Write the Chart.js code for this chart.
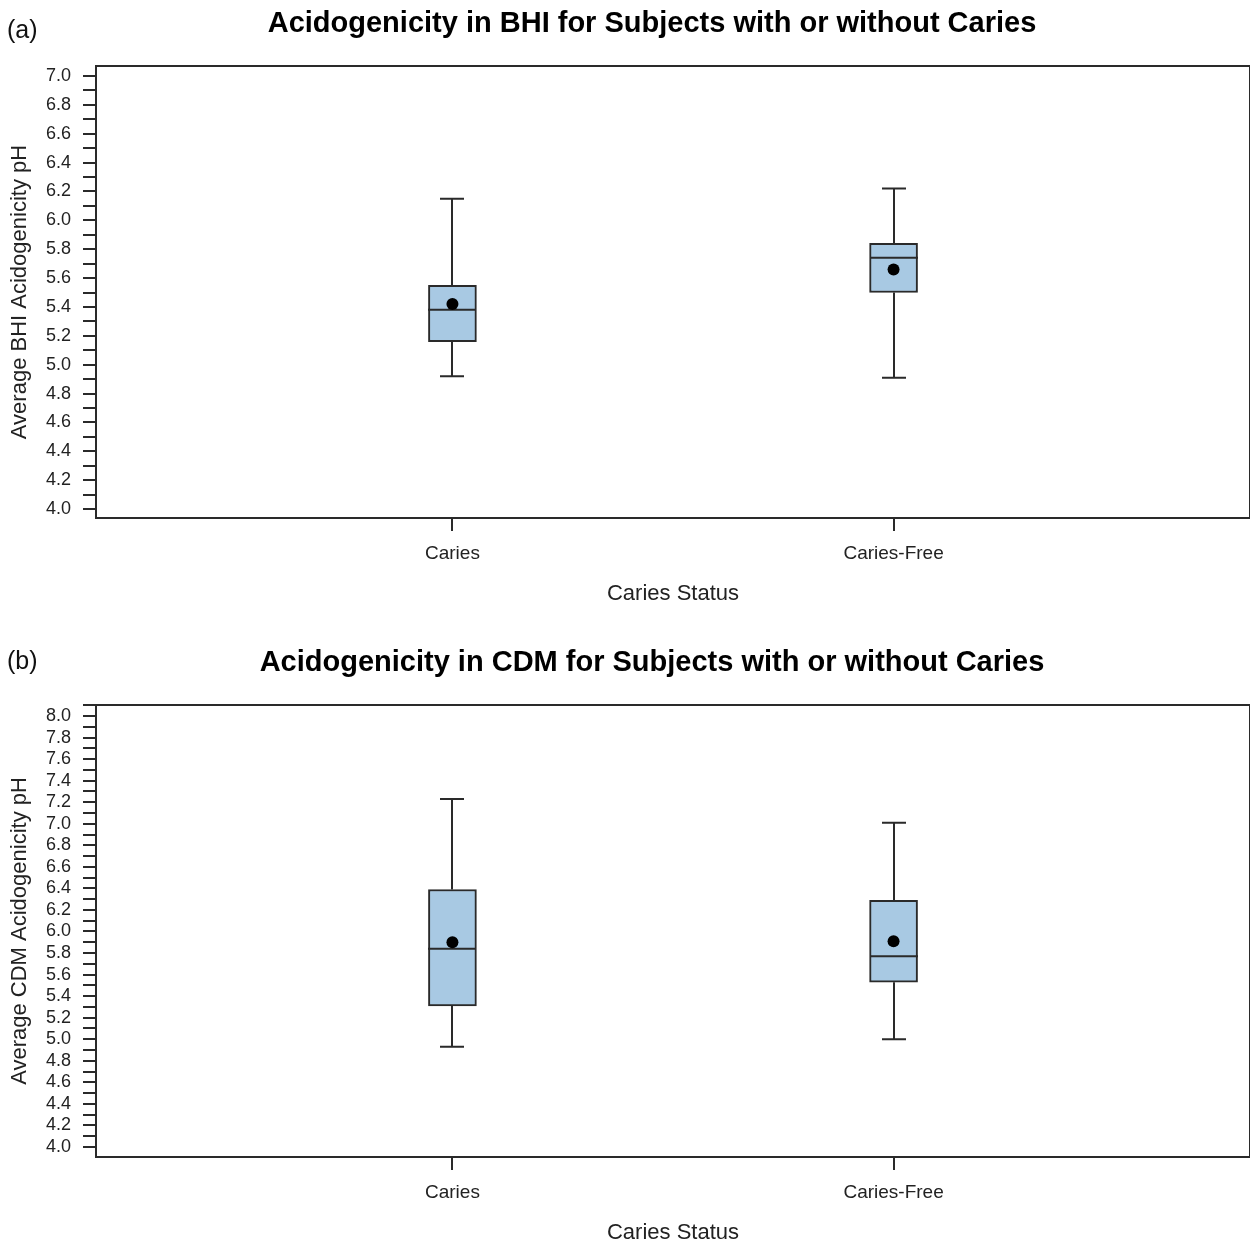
<!DOCTYPE html>
<html>
<head>
<meta charset="utf-8">
<script src="https://cdn.jsdelivr.net/npm/chart.js@4.4.1/dist/chart.umd.min.js"></script>
<style>
  html, body { margin: 0; padding: 0; background: #fff; overflow: hidden; width: 1250px; height: 1243px; }
  .panel { width: 1256px; height: 639px; position: relative; }
  canvas { display: block; }
</style>
</head>
<body>
<div class="panel"><canvas id="bhi" width="1256" height="639"></canvas></div>
<div class="panel"><canvas id="cdm" width="1256" height="639"></canvas></div>
<script>
// ---------- data ----------
const categories = ['Caries', 'Caries-Free'];

// (a) BHI
const bhiWhiskerLow  = [4.92, 4.91];
const bhiQ1          = [5.16, 5.50];
const bhiMedian      = [5.38, 5.74];
const bhiQ3          = [5.55, 5.84];
const bhiWhiskerHigh = [6.15, 6.22];
const bhiMean        = [5.42, 5.66];

// (b) CDM
const cdmWhiskerLow  = [4.93, 5.00];
const cdmQ1          = [5.31, 5.53];
const cdmMedian      = [5.84, 5.77];
const cdmQ3          = [6.39, 6.29];
const cdmWhiskerHigh = [7.23, 7.01];
const cdmMean        = [5.90, 5.91];

// ---------- styles ----------
const FONT = "'Liberation Sans', Arial, Helvetica, sans-serif";
const LINE = '#2a2a2a';
const BOX_FILL = '#a8c9e3';
const BOX_W = 48;
const CAP_W = 24;

function makePanel(canvasId, opts) {
  const { panelLabel, title, yTitle, yMin, yMax, labelY,
          lo, q1, med, q3, hi, mean } = opts;

  const boxData = categories.map((c, i) => ({ x: i + 1, y: [q1[i], q3[i]] }));
  const meanData = categories.map((c, i) => ({ x: i + 1, y: mean[i] }));

  const parts = {
    id: 'boxParts',
    beforeDatasetsDraw(chart) {
      const { ctx, scales: { x, y } } = chart;
      ctx.save();
      ctx.strokeStyle = LINE;
      ctx.lineWidth = 2;
      ctx.lineCap = 'butt';
      categories.forEach((c, i) => {
        const px = Math.round(x.getPixelForValue(i + 1));
        const yHi = y.getPixelForValue(hi[i]);
        const yLo = y.getPixelForValue(lo[i]);
        const yQ1 = y.getPixelForValue(q1[i]);
        const yQ3 = y.getPixelForValue(q3[i]);
        ctx.beginPath();
        ctx.moveTo(px, yHi); ctx.lineTo(px, yQ3);
        ctx.moveTo(px, yQ1); ctx.lineTo(px, yLo);
        ctx.moveTo(px - CAP_W / 2, yHi); ctx.lineTo(px + CAP_W / 2, yHi);
        ctx.moveTo(px - CAP_W / 2, yLo); ctx.lineTo(px + CAP_W / 2, yLo);
        ctx.stroke();
      });
      ctx.restore();
    },
    afterDatasetDraw(chart, args) {
      if (args.meta.type !== 'bar') return;
      const { ctx, scales: { x, y } } = chart;
      ctx.save();
      ctx.strokeStyle = LINE;
      ctx.lineWidth = 2;
      categories.forEach((c, i) => {
        const px = Math.round(x.getPixelForValue(i + 1));
        const ym = y.getPixelForValue(med[i]);
        ctx.beginPath();
        ctx.moveTo(px - BOX_W / 2, ym); ctx.lineTo(px + BOX_W / 2, ym);
        ctx.stroke();
      });
      ctx.restore();
    },
    afterDraw(chart) {
      const { ctx, chartArea: a } = chart;
      ctx.save();
      ctx.strokeStyle = LINE;
      ctx.lineWidth = 2;
      ctx.strokeRect(a.left, a.top, a.right - a.left, a.bottom - a.top);
      ctx.fillStyle = '#000';
      ctx.textBaseline = 'middle';
      ctx.textAlign = 'center';
      ctx.font = "bold 29px " + FONT;
      ctx.fillText(title, 652, 24);
      ctx.textAlign = 'left';
      ctx.fillStyle = '#111';
      ctx.font = "25px " + FONT;
      ctx.fillText(panelLabel, 7, labelY);
      ctx.restore();
    }
  };

  return new Chart(document.getElementById(canvasId), {
    type: 'bar',
    data: {
      datasets: [
        {
          type: 'scatter',
          data: meanData,
          pointRadius: 6,
          pointStyle: 'circle',
          backgroundColor: '#000',
          borderColor: '#000',
          borderWidth: 0
        },
        {
          type: 'bar',
          data: boxData,
          backgroundColor: BOX_FILL,
          borderColor: LINE,
          borderWidth: 2,
          borderSkipped: false,
          barThickness: BOX_W
        }
      ]
    },
    options: {
      responsive: false,
      animation: false,
      events: [],
      layout: { padding: { top: 66, right: 4, left: 0, bottom: 0 } },
      plugins: { legend: { display: false }, tooltip: { enabled: false }, title: { display: false } },
      scales: {
        x: {
          type: 'linear',
          min: 0.192,
          max: 2.808,
          offset: false,
          border: { display: false },
          grid: { offset: false, drawOnChartArea: false, drawTicks: true, tickLength: 13, color: LINE, lineWidth: 2 },
          ticks: {
            stepSize: 1,
            includeBounds: false,
            autoSkip: false,
            maxRotation: 0,
            padding: 11,
            color: '#222',
            font: { family: FONT, size: 19 },
            callback: (v) => categories[Math.round(v) - 1] ?? ''
          },
          title: {
            display: true,
            text: 'Caries Status',
            color: '#222',
            font: { family: FONT, size: 22 },
            padding: { top: 0, bottom: 32 }
          },
          afterFit: (s) => { s.height = 121; }
        },
        y: {
          type: 'linear',
          min: yMin,
          max: yMax,
          border: { display: false },
          grid: { drawOnChartArea: false, drawTicks: true, tickLength: 13, color: LINE, lineWidth: 2 },
          ticks: {
            stepSize: 0.1,
            includeBounds: false,
            autoSkip: false,
            padding: 12,
            color: '#222',
            font: { family: FONT, size: 18 },
            callback: (v) => {
              const k = Math.round(v * 10);
              return k % 2 === 0 ? (k / 10).toFixed(1) : '';
            }
          },
          title: {
            display: true,
            text: yTitle,
            color: '#222',
            font: { family: FONT, size: 22 },
            padding: { top: 7, bottom: 0 }
          },
          afterFit: (s) => { s.width = 96; }
        }
      }
    },
    plugins: [parts]
  });
}

makePanel('bhi', {
  panelLabel: '(a)',
  title: 'Acidogenicity in BHI for Subjects with or without Caries',
  yTitle: 'Average BHI Acidogenicity pH',
  yMin: 3.938, yMax: 7.069, labelY: 31,
  lo: bhiWhiskerLow, q1: bhiQ1, med: bhiMedian, q3: bhiQ3, hi: bhiWhiskerHigh, mean: bhiMean
});

makePanel('cdm', {
  panelLabel: '(b)',
  title: 'Acidogenicity in CDM for Subjects with or without Caries',
  yTitle: 'Average CDM Acidogenicity pH',
  yMin: 3.907, yMax: 8.102, labelY: 23,
  lo: cdmWhiskerLow, q1: cdmQ1, med: cdmMedian, q3: cdmQ3, hi: cdmWhiskerHigh, mean: cdmMean
});
</script>
</body>
</html>
